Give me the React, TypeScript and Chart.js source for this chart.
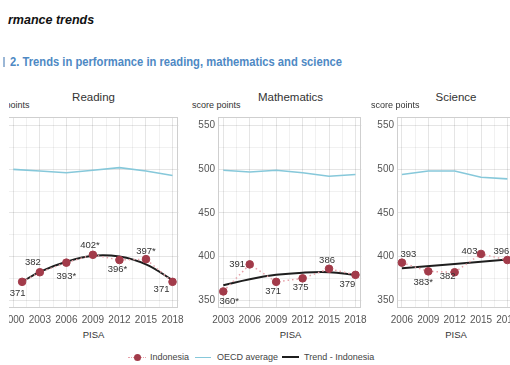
import React, { useEffect, useRef } from "react";
import { Chart, registerables } from "chart.js";

Chart.register(...registerables);

const FONT = "'Liberation Sans', Arial, sans-serif";
Chart.defaults.font.family = FONT;

// ---------- data ----------
const readingTicks = [2000, 2003, 2006, 2009, 2012, 2015, 2018];
const readingYears = [2001, 2003, 2006, 2009, 2012, 2015, 2018];
const readingIndonesia = [371, 382, 393, 402, 396, 397, 371];
const readingLabels = ["371", "382", "393*", "402*", "396*", "397*", "371"];
const readingOecdYears = [2000, 2003, 2006, 2009, 2012, 2015, 2018];
const readingOecd = [500, 498, 496, 499, 502, 498, 493];
const readingTrendYears = [2001, 2003, 2006, 2009, 2012, 2015, 2018];
const readingTrend = [371, 382.5, 394, 401, 400, 391, 373];

const mathTicks = [2003, 2006, 2009, 2012, 2015, 2018];
const mathYears = [2003, 2006, 2009, 2012, 2015, 2018];
const mathIndonesia = [360, 391, 371, 375, 386, 379];
const mathLabels = ["360*", "391", "371", "375", "386", "379"];
const mathOecdYears = [2003, 2006, 2009, 2012, 2015, 2018];
const mathOecd = [499, 497, 499, 496, 492, 494];
const mathTrendYears = [2003, 2006, 2009, 2012, 2015, 2018];
const mathTrend = [367, 374, 379, 381.5, 382, 379];

const scienceTicks = [2006, 2009, 2012, 2015, 2018];
const scienceYears = [2006, 2009, 2012, 2015, 2018];
const scienceIndonesia = [393, 383, 382, 403, 396];
const scienceLabels = ["393", "383*", "382", "403", "396"];
const scienceOecdYears = [2006, 2009, 2012, 2015, 2018];
const scienceOecd = [494, 498, 498, 491, 489];
const scienceTrendYears = [2006, 2018];
const scienceTrend = [386.5, 396.5];

const yTicks = [350, 400, 450, 500, 550];

// ---------- label placement (style) ----------
const readingLabelOffsets = [[-4.5, 12], [-7, -9.5], [0, 14], [-3, -9], [-2, 9], [0, -8], [-11, 8]];
const mathLabelOffsets = [[6, 9.5], [-12.5, 0], [-3, 9.5], [-2, 9], [-2, -8.5], [-8, 10]];
const scienceLabelOffsets = [[6.5, -8.5], [-5, 11], [-7, 4.5], [-11.5, -3], [-6, -9]];

// ---------- layout constants ----------
const CHART_TOP = 112;
const CHART_BOTTOM = 308;
const Y_AXIS_W = 40;
const PAD_R = 10;
const PAD_T = 4;
const X_AXIS_H = 20;
const Y_MIN = 341;
const Y_MAX = 560;

const COLORS = {
  indo: "#a23b4a",
  indoLine: "#e7a1a9",
  oecd: "#86c8da",
  trend: "#1e1e1e",
  gridMajor: "rgba(0,0,0,0.10)",
  gridMinor: "rgba(0,0,0,0.055)",
  border: "#cfcfcf",
  tick: "#555555",
  text: "#333333",
};

type PanelDef = {
  key: string;
  title: string;
  chartLeft: number;
  chartRight: number;
  xMin: number;
  xMax: number;
  ticks: number[];
  years: number[];
  indonesia: number[];
  labels: string[];
  offsets: number[][];
  oecdYears: number[];
  oecd: number[];
  trendYears: number[];
  trend: number[];
};

const panels: PanelDef[] = [
  {
    key: "reading", title: "Reading", chartLeft: 7, chartRight: 180, xMin: 1999.29, xMax: 2018.67,
    ticks: readingTicks, years: readingYears, indonesia: readingIndonesia, labels: readingLabels,
    offsets: readingLabelOffsets, oecdYears: readingOecdYears, oecd: readingOecd,
    trendYears: readingTrendYears, trend: readingTrend,
  },
  {
    key: "math", title: "Mathematics", chartLeft: 218, chartRight: 363, xMin: 2002.4, xMax: 2018.67,
    ticks: mathTicks, years: mathYears, indonesia: mathIndonesia, labels: mathLabels,
    offsets: mathLabelOffsets, oecdYears: mathOecdYears, oecd: mathOecd,
    trendYears: mathTrendYears, trend: mathTrend,
  },
  {
    key: "science", title: "Science", chartLeft: 397, chartRight: 515, xMin: 2005.44, xMax: 2018.67,
    ticks: scienceTicks, years: scienceYears, indonesia: scienceIndonesia, labels: scienceLabels,
    offsets: scienceLabelOffsets, oecdYears: scienceOecdYears, oecd: scienceOecd,
    trendYears: scienceTrendYears, trend: scienceTrend,
  },
];

function withMidpoints(vals: number[]): number[] {
  const out: number[] = [];
  vals.forEach((v, i) => {
    out.push(v);
    if (i < vals.length - 1) out.push((v + vals[i + 1]) / 2);
  });
  return out;
}

function PanelChart({ p }: { p: PanelDef }) {
  const ref = useRef<HTMLCanvasElement>(null);
  const width = p.chartRight - p.chartLeft + Y_AXIS_W + PAD_R;
  const height = CHART_BOTTOM - CHART_TOP + PAD_T + X_AXIS_H;

  useEffect(() => {
    const canvas = ref.current;
    if (!canvas) return;
    const xGrid = withMidpoints(p.ticks);
    const yGrid = withMidpoints(yTicks);

    const frame = {
      id: "panelFrame",
      beforeDatasetsDraw(chart: any) {
        const { ctx, chartArea: a } = chart;
        ctx.save();
        ctx.strokeStyle = COLORS.border;
        ctx.lineWidth = 1;
        ctx.strokeRect(Math.round(a.left) + 0.5, Math.round(a.top) + 0.5, Math.round(a.right - a.left) - 1, Math.round(a.bottom - a.top) - 1);
        ctx.restore();
      },
    };

    const pointLabels = {
      id: "pointLabels",
      afterDatasetsDraw(chart: any) {
        const { ctx } = chart;
        const xs = chart.scales.x;
        const ys = chart.scales.y;
        ctx.save();
        ctx.font = `9.5px ${FONT}`;
        ctx.fillStyle = COLORS.text;
        ctx.textAlign = "center";
        ctx.textBaseline = "middle";
        p.labels.forEach((t, i) => {
          const px = xs.getPixelForValue(p.years[i]) + p.offsets[i][0];
          const py = ys.getPixelForValue(p.indonesia[i]) + p.offsets[i][1];
          ctx.fillText(t, px, py);
        });
        ctx.restore();
      },
    };

    const chart = new Chart(canvas, {
      type: "line",
      data: {
        datasets: [
          {
            label: "Indonesia",
            data: p.years.map((x, i) => ({ x, y: p.indonesia[i] })),
            borderColor: COLORS.indoLine,
            borderWidth: 1.5,
            borderDash: [1.5, 3],
            pointRadius: 3.8,
            pointBackgroundColor: COLORS.indo,
            pointBorderColor: COLORS.indo,
            pointBorderWidth: 1,
            tension: 0,
          },
          {
            label: "OECD average",
            data: p.oecdYears.map((x, i) => ({ x, y: p.oecd[i] })),
            borderColor: COLORS.oecd,
            borderWidth: 1.6,
            pointRadius: 0,
            tension: 0,
          },
          {
            label: "Trend - Indonesia",
            data: p.trendYears.map((x, i) => ({ x, y: p.trend[i] })),
            borderColor: COLORS.trend,
            borderWidth: 2,
            pointRadius: 0,
            tension: 0.4,
          },
        ],
      },
      options: {
        animation: false,
        responsive: false,
        devicePixelRatio: 1,
        events: [],
        layout: { padding: { top: PAD_T, right: PAD_R, left: 0, bottom: 0 } },
        plugins: {
          legend: { display: false },
          tooltip: { enabled: false },
          title: { display: false },
        },
        scales: {
          x: {
            type: "linear",
            min: p.xMin,
            max: p.xMax,
            afterBuildTicks: (s: any) => {
              s.ticks = xGrid.map((v) => ({ value: v }));
            },
            afterFit: (s: any) => {
              s.height = X_AXIS_H;
            },
            ticks: {
              autoSkip: false,
              maxRotation: 0,
              minRotation: 0,
              padding: 6,
              color: COLORS.tick,
              font: { size: 10, family: FONT },
              callback: (v: any) => (Number.isInteger(v) ? String(v) : ""),
            },
            grid: {
              drawTicks: false,
              lineWidth: 1,
              color: (c: any) => (c.tick && Number.isInteger(c.tick.value) ? COLORS.gridMajor : COLORS.gridMinor),
            },
            border: { display: false },
          },
          y: {
            type: "linear",
            min: Y_MIN,
            max: Y_MAX,
            afterBuildTicks: (s: any) => {
              s.ticks = yGrid.map((v) => ({ value: v }));
            },
            afterFit: (s: any) => {
              s.width = Y_AXIS_W;
            },
            ticks: {
              autoSkip: false,
              padding: 3,
              color: COLORS.tick,
              font: { size: 10, family: FONT },
              callback: (v: any) => (v % 50 === 0 ? String(v) : ""),
            },
            grid: {
              drawTicks: false,
              lineWidth: 1,
              color: (c: any) => (c.tick && c.tick.value % 50 === 0 ? COLORS.gridMajor : COLORS.gridMinor),
            },
            border: { display: false },
          },
        },
      } as any,
      plugins: [frame, pointLabels],
    });
    return () => chart.destroy();
  }, [p]);

  return (
    <canvas
      ref={ref}
      width={width}
      height={height}
      style={{
        position: "absolute",
        left: p.chartLeft - Y_AXIS_W,
        top: CHART_TOP - PAD_T,
        width,
        height,
      }}
    />
  );
}

function Txt({ children, left, top, size, color, weight, italic, center, family, lh, scaleX }: any) {
  const lineH = lh || Math.round(size * 1.25);
  let transform: string | undefined = undefined;
  if (center) transform = "translateX(-50%)";
  if (scaleX) transform = `scaleX(${scaleX})`;
  return (
    <div
      style={{
        position: "absolute",
        left,
        top: top - lineH / 2,
        fontSize: size,
        lineHeight: `${lineH}px`,
        color,
        fontWeight: weight || "normal",
        fontStyle: italic ? "italic" : "normal",
        fontFamily: family || FONT,
        whiteSpace: "nowrap",
        transform,
        transformOrigin: "left center",
      }}
    >
      {children}
    </div>
  );
}

export default function App() {
  return (
    <div
      style={{
        position: "fixed",
        left: 0,
        top: 0,
        width: 510,
        height: 365,
        overflow: "hidden",
        background: "#ffffff",
      }}
    >
      <Txt left={8} top={20} size={12.5} color="#111" weight="bold" italic>
        rmance trends
      </Txt>
      <div style={{ position: "absolute", left: 3, top: 57, width: 1.5, height: 10, background: "#9bb7d6" }} />
      <Txt left={10} top={62} size={12.6} color="#4e89c4" weight="bold" scaleX={0.89}>
        2. Trends in performance in reading, mathematics and science
      </Txt>

      {panels.map((p) => (
        <React.Fragment key={p.key}>
          <Txt left={(p.chartLeft + p.chartRight) / 2} top={97} size={11.5} color={COLORS.text} center>
            {p.title}
          </Txt>
          <Txt left={p.chartLeft - 26} top={105} size={9} color={COLORS.text}>
            score points
          </Txt>
          <Txt left={(p.chartLeft + p.chartRight) / 2} top={335} size={9.5} color={COLORS.text} center>
            PISA
          </Txt>
          <PanelChart p={p} />
        </React.Fragment>
      ))}

      {/* left crop edge of the original figure */}
      <div style={{ position: "absolute", left: 0, top: 85, width: 9, height: 245, background: "#ffffff" }} />

      {/* legend */}
      <div style={{ position: "absolute", left: 128, top: 356.5, width: 18, height: 0, borderTop: `1.5px dotted ${COLORS.indoLine}` }} />
      <div style={{ position: "absolute", left: 133.5, top: 353.5, width: 7, height: 7, borderRadius: "50%", background: COLORS.indo }} />
      <Txt left={150} top={357} size={9} color="#444">Indonesia</Txt>
      <div style={{ position: "absolute", left: 195, top: 356.5, width: 16, height: 1.6, background: COLORS.oecd }} />
      <Txt left={217} top={357} size={9} color="#444">OECD average</Txt>
      <div style={{ position: "absolute", left: 282, top: 356, width: 17, height: 2, background: COLORS.trend }} />
      <Txt left={304} top={357} size={9} color="#444">Trend - Indonesia</Txt>
    </div>
  );
}
